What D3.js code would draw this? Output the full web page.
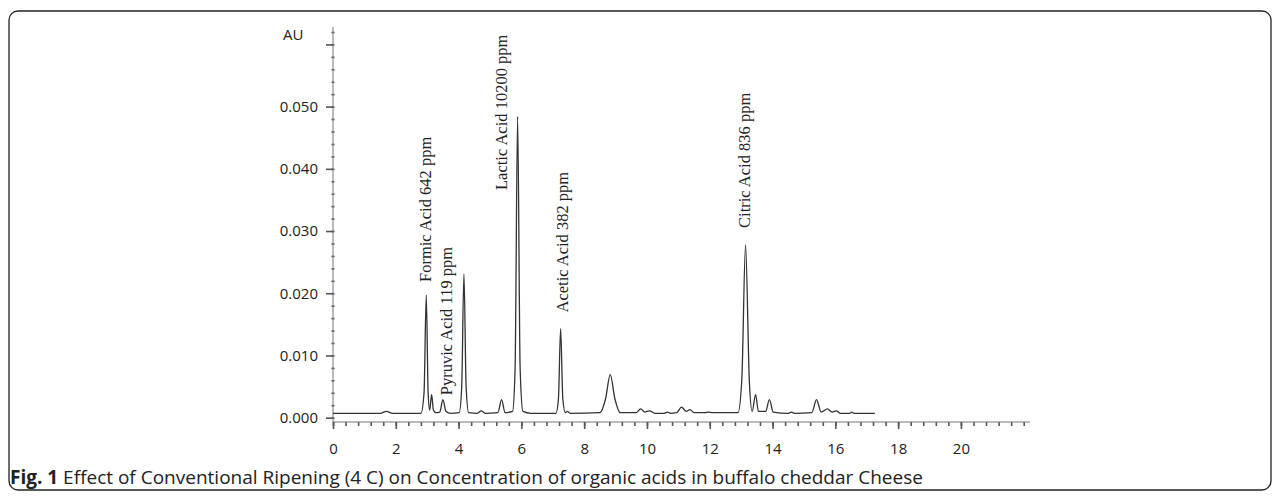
<!DOCTYPE html>
<html>
<head>
<meta charset="utf-8">
<script src="https://cdn.jsdelivr.net/npm/d3@7"></script>
<style>
    body { margin: 0; background: #fff; }
</style>
</head>
<body>
<div id="chromatogram"></div>
<script>
// Chromatogram trace: retention time (min) and absorbance (AU)
const trace_times = [
    0.0, 1.5, 1.7, 1.9, 2.80, 2.90, 2.97, 3.03, 3.08, 3.14, 3.20, 3.28, 3.40, 3.50, 3.60, 3.75,
    4.02, 4.10, 4.17, 4.24, 4.32, 4.60, 4.72, 4.85, 5.25, 5.37, 5.48, 5.72, 5.80, 5.88, 5.96, 6.05,
    6.30, 7.10, 7.18, 7.25, 7.32, 7.40, 7.47, 7.55, 8.50, 8.68, 8.83, 8.98, 9.15, 9.65, 9.80, 9.93,
    10.08, 10.25, 10.55, 10.65, 10.75, 10.95, 11.10, 11.25, 11.37, 11.50, 11.85, 11.95, 12.10, 12.90,
    13.02, 13.14, 13.26, 13.35, 13.46, 13.55, 13.78, 13.90, 14.02, 14.50, 14.60, 14.70, 15.25, 15.40,
    15.55, 15.75, 15.90, 16.03, 16.15, 16.45, 16.52, 16.60, 17.26
];
const trace_au = [
    0.0007, 0.0007, 0.0010, 0.0007, 0.0007, 0.0040, 0.0197, 0.0040, 0.0012, 0.0037, 0.0012, 0.0008, 0.0009, 0.0029, 0.0010, 0.0007,
    0.0008, 0.0050, 0.0231, 0.0050, 0.0008, 0.0007, 0.0011, 0.0007, 0.0008, 0.0029, 0.0008, 0.0010, 0.0080, 0.0484, 0.0080, 0.0010,
    0.0007, 0.0007, 0.0030, 0.0143, 0.0030, 0.0008, 0.0010, 0.0007, 0.0008, 0.0030, 0.0069, 0.0030, 0.0008, 0.0008, 0.0014, 0.0009,
    0.0011, 0.0007, 0.0007, 0.0009, 0.0007, 0.0008, 0.0017, 0.0010, 0.0013, 0.0008, 0.0008, 0.0009, 0.0008, 0.0008,
    0.0060, 0.0278, 0.0060, 0.0010, 0.0037, 0.0010, 0.0010, 0.0029, 0.0009, 0.0007, 0.0009, 0.0007, 0.0008, 0.0029,
    0.0009, 0.0014, 0.0009, 0.0011, 0.0007, 0.0007, 0.0009, 0.0007, 0.0007
];

// Peak labels and where their lower end sits (time, AU)
const peak_labels = ["Formic Acid 642 ppm", "Pyruvic Acid 119 ppm", "Lactic Acid 10200 ppm",
    "Acetic Acid 382 ppm", "Citric Acid 836 ppm"];
const peak_label_times = [2.96, 3.63, 5.38, 7.32, 13.12];
const peak_label_au = [0.0218, 0.0036, 0.0366, 0.0169, 0.0305];

// Tick labels
const y_tick_values = [0.000, 0.010, 0.020, 0.030, 0.040, 0.050];
const x_tick_values = [0, 2, 4, 6, 8, 10, 12, 14, 16, 18, 20];

const caption_bold = "Fig. 1";
const caption_text = " Effect of Conventional Ripening (4 C) on Concentration of organic acids in buffalo cheddar Cheese";

var width = 1281,
    height = 502;

var svg = d3.select("#chromatogram")
    .append("svg")
    .attr("width", width)
    .attr("height", height);

// Rounded frame round the figure
svg.append("rect")
    .attr("x", 9)
    .attr("y", 11)
    .attr("width", 1262)
    .attr("height", 479)
    .attr("rx", 9)
    .attr("fill", "none")
    .attr("stroke", "#222")
    .attr("stroke-width", 1.3);

// Scales
var x = d3.scaleLinear()
    .domain([0, 22.2])
    .range([333, 1030]);
var y = d3.scaleLinear()
    .domain([-0.0007, 0.0628])
    .range([422, 27]);

// Y axis: labelled major ticks, minor ticks every 0.002, unlabelled 0.060
var yMinor = d3.range(0, 0.0621, 0.002);
svg.append("g")
    .attr("transform", "translate(" + x(0) + ",0)")
    .call(d3.axisLeft(y).tickValues(yMinor).tickSize(3).tickFormat(""))
    .call(g => g.selectAll(".tick line").attr("stroke", "#555").attr("stroke-width", 1.6).attr("transform", "translate(1.5,0)"))
    .call(g => g.select(".domain").remove());
svg.append("g")
    .attr("transform", "translate(" + x(0) + ",0)")
    .call(d3.axisLeft(y).tickValues(y_tick_values.concat([0.060])).tickSize(7).tickPadding(8)
        .tickFormat(d => d > 0.055 ? "" : d3.format(".3f")(d)))
    .call(g => g.select(".domain").attr("stroke", "#777").attr("d", "M0," + y.range()[1] + "V" + y.range()[0]))
    .call(g => g.selectAll(".tick line").attr("stroke", "#555").attr("stroke-width", 1.6))
    .call(g => g.selectAll(".tick text")
        .style("font", "15px 'Open Sans', sans-serif")
        .attr("fill", "#222"));

svg.append("text")
    .attr("x", 283)
    .attr("y", 34)
    .attr("dominant-baseline", "central")
    .style("font", "15px 'Open Sans', sans-serif")
    .attr("fill", "#222")
    .text("AU");

// X axis: major ticks every 2 min, minor every 0.4 min
var xMinor = d3.range(0, 22.01, 0.4);
svg.append("g")
    .attr("transform", "translate(0," + y.range()[0] + ")")
    .call(d3.axisBottom(x).tickValues(xMinor).tickSize(4).tickFormat(""))
    .call(g => g.selectAll(".tick line").attr("stroke", "#555").attr("stroke-width", 1.6))
    .call(g => g.select(".domain").remove());
svg.append("g")
    .attr("transform", "translate(0," + y.range()[0] + ")")
    .call(d3.axisBottom(x).tickValues(x_tick_values).tickSize(7).tickPadding(14).tickFormat(d3.format("d")))
    .call(g => g.select(".domain").attr("stroke", "#777").attr("d", "M" + x.range()[0] + ",0H" + x.range()[1]))
    .call(g => g.selectAll(".tick line").attr("stroke", "#555").attr("stroke-width", 1.6))
    .call(g => g.selectAll(".tick text")
        .style("font", "15px 'Open Sans', sans-serif")
        .attr("fill", "#222"));

// The trace
var points = trace_times.map((t, i) => [t, trace_au[i]]);
var line = d3.line()
    .x(d => x(d[0]))
    .y(d => y(d[1]))
    .curve(d3.curveMonotoneX);
svg.append("path")
    .datum(points)
    .attr("d", line)
    .attr("fill", "none")
    .attr("stroke", "#333")
    .attr("stroke-width", 1.3);

// Rotated peak labels
for (let i = 0; i < peak_labels.length; i++) {
    let px = x(peak_label_times[i]),
        py = y(peak_label_au[i]);
    svg.append("text")
        .attr("transform", "translate(" + px + "," + py + ") rotate(-90)")
        .attr("dominant-baseline", "central")
        .style("font", "16.5px 'Liberation Serif', serif")
        .attr("fill", "#222")
        .text(peak_labels[i]);
}

// Caption
var caption = svg.append("text")
    .attr("x", 10)
    .attr("y", 477)
    .attr("dominant-baseline", "central")
    .style("font", "19px 'Open Sans', sans-serif")
    .attr("fill", "#222");
caption.append("tspan").style("font-weight", "bold").text(caption_bold);
caption.append("tspan").text(caption_text);
</script>
</body>
</html>
